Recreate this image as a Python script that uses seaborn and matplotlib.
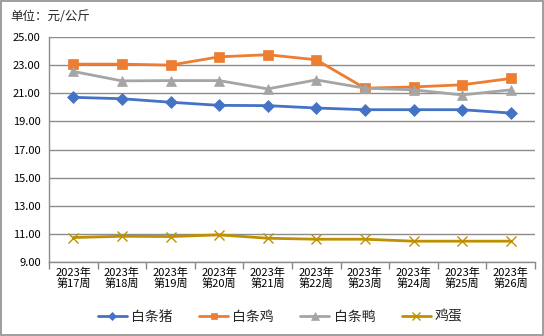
import matplotlib
matplotlib.use("Agg")
import matplotlib.pyplot as plt
import seaborn as sns
import pandas as pd
from matplotlib.patches import Rectangle
from matplotlib.ticker import FixedLocator

weeks = ["2023年\n第17周", "2023年\n第18周", "2023年\n第19周", "2023年\n第20周", "2023年\n第21周",
         "2023年\n第22周", "2023年\n第23周", "2023年\n第24周", "2023年\n第25周", "2023年\n第26周"]
pig = [20.71, 20.61, 20.36, 20.14, 20.12, 19.95, 19.83, 19.83, 19.83, 19.59]
chicken = [23.07, 23.07, 23.00, 23.59, 23.74, 23.38, 21.36, 21.45, 21.60, 22.05]
duck = [22.55, 21.88, 21.90, 21.90, 21.31, 21.95, 21.36, 21.24, 20.88, 21.24]
egg = [10.74, 10.83, 10.81, 10.93, 10.69, 10.62, 10.62, 10.48, 10.48, 10.48]
series_names = ["白条猪", "白条鸡", "白条鸭", "鸡蛋"]
title = "单位：元/公斤"
yticks = [9, 11, 13, 15, 17, 19, 21, 23, 25]

sns.set_theme(style="white")
plt.rcParams['font.family'] = ['Noto Sans CJK SC', 'DejaVu Sans']

fig = plt.figure(figsize=(5.44, 3.36), dpi=100)
ax = fig.add_axes([49/544, 1-262/336, (535-49)/544, (262-37)/336])

colors = ["#4472C4", "#ED7D31", "#A5A5A5", "#BF9000"]
markers = ["D", "s", "^", "x"]
msizes = [6, 6.5, 7.5, 7]
pos = list(range(len(weeks)))
for vals, name, c, m, ms in zip([pig, chicken, duck, egg], series_names, colors, markers, msizes):
    df = pd.DataFrame({"x": pos, "y": vals})
    sns.lineplot(data=df, x="x", y="y", ax=ax, color=c, marker=m, markersize=ms,
                 linewidth=2.0, label=name, markeredgecolor=c,
                 markeredgewidth=1.0 if m == "x" else 0.5)

ax.set_xlim(-0.5, len(weeks) - 0.5)
ax.set_ylim(9, 25)
ax.set_yticks(yticks)
ax.set_yticklabels([f"{v:.2f}" for v in yticks], fontsize=8)
ax.set_xticks(pos)
ax.set_xticklabels(weeks, fontsize=8, linespacing=1.05)
ax.xaxis.set_minor_locator(FixedLocator([i - 0.5 for i in range(len(weeks) + 1)]))
ax.tick_params(axis="x", which="major", length=0, pad=4, colors="black")
ax.tick_params(axis="x", which="minor", length=5, color="#888888", width=1, bottom=True)
ax.tick_params(axis="y", length=0, pad=6, colors="black")
ax.set_xlabel("")
ax.set_ylabel("")
ax.grid(axis="y", color="#8c8c8c", linewidth=1)
ax.set_axisbelow(True)
for s in ["top", "right"]:
    ax.spines[s].set_visible(False)
for s in ["left", "bottom"]:
    ax.spines[s].set_color("#8c8c8c")
    ax.spines[s].set_linewidth(1)

leg = ax.legend(loc="lower center", bbox_to_anchor=(0.515, 0.0), bbox_transform=fig.transFigure,
                ncol=4, frameon=False, fontsize=10, handlelength=2.1, columnspacing=1.9,
                handletextpad=0.3, markerscale=0.75)

fig.text(10/544, 1-16/336, title, fontsize=9, va="center", ha="left")
fig.patches.append(Rectangle((0.001, 0.002), 0.997, 0.995, transform=fig.transFigure,
                             fill=False, edgecolor="#8c8c8c", linewidth=1.2))

fig.savefig("out.png", dpi=100, facecolor="white")
